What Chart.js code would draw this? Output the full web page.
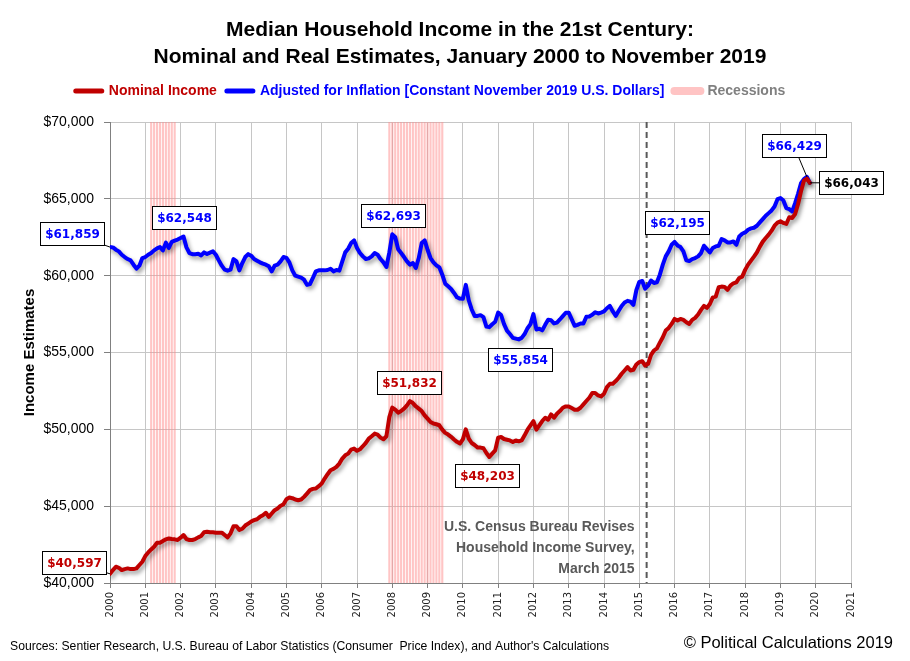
<!DOCTYPE html>
<html>
<head>
<meta charset="utf-8">
<script src="https://cdn.jsdelivr.net/npm/chart.js@4.4.1/dist/chart.umd.min.js"></script>
<style>
html,body{margin:0;padding:0;background:#fff;}
#wrap{width:910px;height:661px;position:relative;}
canvas{display:block;}
</style>
</head>
<body>
<div id="wrap"><canvas id="c" width="910" height="661"></canvas></div>
<script>
// ---------------- DATA ----------------
const titleLines = ['Median Household Income in the 21st Century:', 'Nominal and Real Estimates, January 2000 to November 2019'];
const seriesNames = ['Nominal Income', 'Adjusted for Inflation [Constant November 2019 U.S. Dollars]', 'Recessions'];
const startYear = 2000; // first month: January 2000, monthly series

const nominalIncome = [
  40597, 40840, 41060, 40990, 40840, 40905, 40950, 40905, 40905, 40950, 41170, 41385, // 2000
  41750, 41990, 42185, 42360, 42620, 42620, 42730, 42840, 42900, 42860, 42840, 42800, // 2001
  42950, 43120, 42860, 42800, 42800, 42860, 42970, 43060, 43300, 43340, 43300, 43300, // 2002
  43275, 43275, 43275, 43120, 42970, 43230, 43700, 43700, 43450, 43530, 43740, 43870, // 2003
  44000, 44090, 44150, 44305, 44410, 44570, 44305, 44520, 44740, 44850, 45020, 45130, // 2004
  45450, 45560, 45520, 45430, 45390, 45430, 45605, 45820, 46040, 46125, 46150, 46300, // 2005
  46470, 46800, 47080, 47340, 47425, 47555, 47770, 48100, 48310, 48420, 48680, 48745, // 2006
  48600, 48700, 48900, 49115, 49400, 49550, 49720, 49655, 49460, 49350, 49550, 50800, // 2007
  51410, 51280, 51085, 51190, 51345, 51560, 51832, 51710, 51500, 51345, 51190, 50910, // 2008
  50700, 50480, 50375, 50330, 50265, 49985, 49770, 49660, 49510, 49340, 49185, 49080, // 2009
  49350, 50000, 49400, 49110, 48980, 48810, 48810, 48765, 48460, 48203, 48420, 48630, // 2010
  49455, 49500, 49370, 49325, 49280, 49175, 49280, 49220, 49280, 49610, 49975, 50260, // 2011
  50540, 49975, 50260, 50540, 50755, 50625, 50970, 50755, 51015, 51190, 51405, 51490, // 2012
  51490, 51385, 51275, 51275, 51405, 51620, 51840, 52055, 52360, 52360, 52205, 52140, // 2013
  52315, 52750, 52965, 52965, 53140, 53355, 53615, 53830, 54050, 53830, 53875, 54220, // 2014
  54370, 54435, 54150, 54265, 54850, 55130, 55270, 55640, 55995, 56430, 56600, 56860, // 2015
  57185, 57080, 57185, 57120, 56970, 56860, 57120, 57250, 57470, 57770, 58030, 57900, // 2016
  58160, 58590, 58640, 59245, 59290, 59270, 59075, 59355, 59505, 59570, 59850, 59940, // 2017
  60375, 60720, 60980, 61240, 61520, 61890, 62215, 62450, 62670, 62930, 63255, 63450, // 2018
  63535, 63430, 63365, 63800, 63755, 64015, 64665, 65490, 66180, 66310, 66043          // 2019
];

const realIncome = [
  61859, 61840, 61690, 61580, 61364, 61212, 61082, 60995, 60714, 60455, 60649, 61147, // 2000
  61212, 61364, 61472, 61645, 61775, 61862, 61645, 62150, 61800, 62200, 62280, 62350, // 2001
  62450, 62548, 61840, 61472, 61400, 61400, 61420, 61320, 61515, 61410, 61500, 61580, // 2002
  61364, 60995, 60650, 60390, 60325, 60390, 61080, 60930, 60345, 60822, 61212, 61400, // 2003
  61300, 61082, 60975, 60866, 60780, 60714, 60606, 60280, 60650, 60714, 60930, 61212, // 2004
  61160, 60866, 60345, 60000, 59935, 59870, 59740, 59400, 59450, 59850, 60280, 60345, // 2005
  60345, 60345, 60370, 60450, 60280, 60370, 60325, 60930, 61515, 61750, 62121, 62295, // 2006
  61797, 61472, 61255, 61082, 61125, 61255, 61472, 61364, 61082, 60866, 60563, 61515, // 2007
  62693, 62500, 61720, 61472, 61212, 60930, 60714, 60822, 60500, 61147, 62121, 62295, // 2008
  61688, 61147, 60866, 60670, 60540, 60065, 59480, 59307, 59134, 58874, 58593, 58506, // 2009
  58500, 59400, 58400, 57800, 57380, 57380, 57430, 57300, 56690, 56650, 56840, 57000, // 2010
  57600, 57440, 56850, 56420, 56200, 55950, 55900, 55854, 55950, 56200, 56580, 56850, // 2011
  57500, 56500, 56550, 56440, 56800, 57130, 57100, 56890, 56950, 57150, 57370, 57590, // 2012
  57590, 57170, 56740, 56800, 56890, 56890, 57320, 57340, 57450, 57620, 57540, 57600, // 2013
  57670, 57880, 58030, 57670, 57390, 57720, 58030, 58250, 58360, 58310, 58100, 59050, // 2014
  59600, 59650, 59150, 59350, 59680, 59520, 59570, 60065, 60715, 61255, 61580, 62010, // 2015
  62195, 61970, 61860, 61580, 60995, 60950, 61080, 61145, 61255, 61470, 61950, 61730, // 2016
  61515, 61800, 61905, 61950, 62385, 62300, 62165, 62165, 62230, 62010, 62555, 62730, // 2017
  62815, 62990, 63075, 63120, 63250, 63465, 63680, 63900, 64070, 64245, 64505, 64980, // 2018
  65050, 64895, 64400, 64330, 64180, 64720, 65325, 66020, 66280, 66429, 66043          // 2019
];

// recession periods: [startYear, startMonth, endYear, endMonth]
const recessionPeriods = [[2001, 3, 2001, 11], [2007, 12, 2009, 6]];
const yTicks = [40000, 45000, 50000, 55000, 60000, 65000, 70000];
const xTickYears = [2000, 2001, 2002, 2003, 2004, 2005, 2006, 2007, 2008, 2009, 2010,
                    2011, 2012, 2013, 2014, 2015, 2016, 2017, 2018, 2019, 2020, 2021];
const censusRevision = [2015, 3];
const censusNote = ['U.S. Census Bureau Revises', 'Household Income Survey,', 'March 2015'];
const realLabelIdx = [0, 25, 96, 139, 192, 237];
const nominalLabelIdx = [0, 102, 129, 238];
const sourceText = 'Sources: Sentier Research, U.S. Bureau of Labor Statistics (Consumer  Price Index), and Author\'s Calculations';
const copyrightText = '\u00A9 Political Calculations 2019';

// ---------------- HELPERS ----------------
const monthToX = i => startYear + i / 12;
const ymToX = (y, m) => y + (m - 1) / 12;
const recessionMonths = [];
recessionPeriods.forEach(([y1, m1, y2, m2]) => {
  for (let k = y1 * 12 + m1 - 1; k <= y2 * 12 + m2 - 1; k++) recessionMonths.push(k / 12);
});
const fmt = v => '$' + Math.round(v).toLocaleString('en-US');

const NARROW = '"Liberation Sans Narrow", "Liberation Sans", Arial, sans-serif';
const SANS = '"Liberation Sans", Arial, sans-serif';
const DEJA = '"DejaVu Sans", Verdana, sans-serif';
const RED = '#c00000', BLUE = '#0000ff';

// label box styling (offset of box centre from the data point)
const labelStyle = {
  'r0':   {dx: -38, dy: -14, color: BLUE, leader: true},
  'r25':  {dx: 0,   dy: -19, color: BLUE},
  'r96':  {dx: 1,   dy: -19, color: BLUE},
  'r139': {dx: 1,   dy: 20,  color: BLUE},
  'r192': {dx: 2,   dy: -19, color: BLUE},
  'r237': {dx: -13, dy: -31, color: BLUE, leader: true},
  'n0':   {dx: -36, dy: -11, color: RED, leader: true},
  'n102': {dx: -1,  dy: -19, color: RED},
  'n129': {dx: -2,  dy: 19,  color: RED},
  'n238': {dx: 41,  dy: 0,   color: '#000', leader: true}
};

// ---------------- PLUGINS ----------------
const bgPlugin = {
  id: 'bg',
  beforeDraw(chart) {
    const ctx = chart.ctx;
    ctx.save(); ctx.fillStyle = '#fff'; ctx.fillRect(0, 0, chart.width, chart.height); ctx.restore();
  }
};

const shadowPlugin = {
  id: 'lineShadow',
  beforeDatasetDraw(chart, args) {
    if (chart.data.datasets[args.index].type === 'bar') return;
    const ctx = chart.ctx;
    ctx.save();
    ctx.shadowColor = 'rgba(0,0,0,0.38)';
    ctx.shadowBlur = 4;
    ctx.shadowOffsetX = 2;
    ctx.shadowOffsetY = 3;
  },
  afterDatasetDraw(chart, args) {
    if (chart.data.datasets[args.index].type === 'bar') return;
    chart.ctx.restore();
  }
};

const decorPlugin = {
  id: 'decor',
  beforeDatasetsDraw(chart) {
    const {ctx, chartArea, scales} = chart;
    const x = scales.x.getPixelForValue(ymToX(censusRevision[0], censusRevision[1]) + 0.5 / 12);
    ctx.save();
    ctx.strokeStyle = '#595959';
    ctx.lineWidth = 2;
    ctx.setLineDash([6, 4]);
    ctx.beginPath(); ctx.moveTo(x, chartArea.top); ctx.lineTo(x, chartArea.bottom); ctx.stroke();
    ctx.setLineDash([]);
    ctx.fillStyle = '#595959';
    ctx.font = 'bold 14px ' + NARROW;
    ctx.textAlign = 'right';
    ctx.textBaseline = 'middle';
    censusNote.forEach((t, i) => ctx.fillText(t, x - 12, chartArea.bottom - 56 + i * 21));
    ctx.restore();
  },
  afterDatasetsDraw(chart) {
    const {ctx, scales} = chart;
    const items = [];
    realLabelIdx.forEach(i => items.push({key: 'r' + i, i, v: realIncome[i]}));
    nominalLabelIdx.forEach(i => items.push({key: 'n' + i, i, v: nominalIncome[i]}));
    ctx.save();
    ctx.font = 'bold 12px ' + DEJA;
    items.forEach(it => {
      const st = labelStyle[it.key];
      const px = scales.x.getPixelForValue(monthToX(it.i));
      const py = scales.y.getPixelForValue(it.v);
      const text = fmt(it.v);
      const w = ctx.measureText(text).width + 9;
      const h = 23;
      const cx = px + st.dx, cy = py + st.dy;
      if (st.leader) {
        const ddx = px - cx, ddy = py - cy;
        const t = Math.min(Math.abs(ddx) > 0 ? (w / 2) / Math.abs(ddx) : 1e9, Math.abs(ddy) > 0 ? (h / 2) / Math.abs(ddy) : 1e9);
        if (t < 1) {
          ctx.strokeStyle = '#000'; ctx.lineWidth = 1;
          ctx.beginPath(); ctx.moveTo(cx + ddx * t, cy + ddy * t); ctx.lineTo(px, py); ctx.stroke();
        }
      }
      const bx = Math.round(cx - w / 2) + 0.5, by = Math.round(cy - h / 2) + 0.5;
      ctx.fillStyle = '#fff';
      ctx.fillRect(bx, by, Math.round(w), h);
      ctx.strokeStyle = '#000'; ctx.lineWidth = 1;
      ctx.strokeRect(bx, by, Math.round(w), h);
      ctx.fillStyle = st.color;
      ctx.textAlign = 'center'; ctx.textBaseline = 'middle';
      ctx.fillText(text, bx + Math.round(w) / 2, by + h / 2 + 0.5);
    });
    ctx.restore();
  },
  afterDraw(chart) {
    const ctx = chart.ctx;
    ctx.save();
    ctx.fillStyle = '#000';
    ctx.textAlign = 'center'; ctx.textBaseline = 'middle';
    ctx.font = 'bold 21px ' + NARROW;
    ctx.fillText(titleLines[0], 460, 30);
    ctx.fillText(titleLines[1], 460, 57);
    ctx.textAlign = 'left';
    ctx.font = '12.2px ' + NARROW;
    ctx.fillText(sourceText, 10, 647);
    ctx.textAlign = 'right';
    ctx.font = '16.5px ' + SANS;
    ctx.fillText(copyrightText, 893, 643);
    ctx.restore();
  }
};

// ---------------- CHART ----------------
const legendColors = [RED, BLUE, '#808080'];
const legendLines = [RED, BLUE, '#ffc4c4'];

new Chart(document.getElementById('c'), {
  type: 'line',
  data: {
    datasets: [
      {
        label: seriesNames[0],
        data: nominalIncome.map((v, i) => ({x: monthToX(i), y: v})),
        borderColor: RED, backgroundColor: RED,
        borderWidth: 4, pointRadius: 0, tension: 0,
        borderJoinStyle: 'round', borderCapStyle: 'round', order: 0
      },
      {
        label: seriesNames[1],
        data: realIncome.map((v, i) => ({x: monthToX(i), y: v})),
        borderColor: BLUE, backgroundColor: BLUE,
        borderWidth: 4, pointRadius: 0, tension: 0,
        borderJoinStyle: 'round', borderCapStyle: 'round', order: 1
      },
      {
        type: 'bar',
        label: seriesNames[2],
        data: recessionMonths.map(x => ({x, y: [yTicks[0], yTicks[yTicks.length - 1]]})),
        backgroundColor: 'rgba(255,140,140,0.5)',
        borderWidth: 0,
        barPercentage: 0.72, categoryPercentage: 1,
        order: 2
      }
    ]
  },
  options: {
    responsive: false,
    animation: false,
    events: [],
    layout: {padding: {left: 10, right: 59, top: 74, bottom: 0}},
    plugins: {
      title: {display: false},
      tooltip: {enabled: false},
      legend: {
        display: true,
        labels: {
          usePointStyle: true,
          pointStyle: 'line',
          pointStyleWidth: 26,
          padding: 10,
          font: {family: NARROW, size: 14, weight: 'bold'},
          generateLabels: chart => {
            const items = Chart.defaults.plugins.legend.labels.generateLabels(chart);
            items.forEach((it, i) => {
              it.fontColor = legendColors[i];
              it.strokeStyle = legendLines[i];
              it.fillStyle = legendLines[i];
              it.lineWidth = i === 2 ? 8 : 5;
              it.lineCap = 'round';
              it.pointStyle = 'line';
            });
            return items;
          }
        }
      }
    },
    scales: {
      x: {
        type: 'linear',
        min: xTickYears[0], max: xTickYears[xTickYears.length - 1],
        offset: false,
        afterBuildTicks: s => { s.ticks = xTickYears.map(v => ({value: v})); },
        ticks: {
          autoSkip: false, maxRotation: 90, minRotation: 90,
          font: {family: DEJA, size: 10}, color: '#222',
          padding: 4,
          callback: v => String(v)
        },
        grid: {color: '#c6c6c6', tickColor: '#808080', tickLength: 5, offset: false},
        border: {color: '#808080'},
        afterFit: s => { s.height = 78; }
      },
      spacer: {
        type: 'linear', position: 'top', display: true,
        grid: {display: false, drawTicks: false},
        border: {display: false},
        ticks: {display: false},
        afterFit: s => { s.height = 14; }
      },
      y: {
        min: yTicks[0], max: yTicks[yTicks.length - 1],
        afterBuildTicks: s => { s.ticks = yTicks.map(v => ({value: v})); },
        ticks: {
          font: {family: SANS, size: 14}, color: '#000', padding: 10,
          callback: v => fmt(v)
        },
        grid: {color: '#c6c6c6', tickColor: '#808080', tickLength: 6},
        border: {color: '#808080'},
        title: {
          display: true, text: 'Income Estimates', color: '#000',
          font: {family: SANS, size: 15, weight: 'bold'},
          padding: {top: 11, bottom: 0}
        },
        afterFit: s => { s.width = 100; }
      }
    }
  },
  plugins: [bgPlugin, shadowPlugin, decorPlugin]
});
</script>
</body>
</html>
